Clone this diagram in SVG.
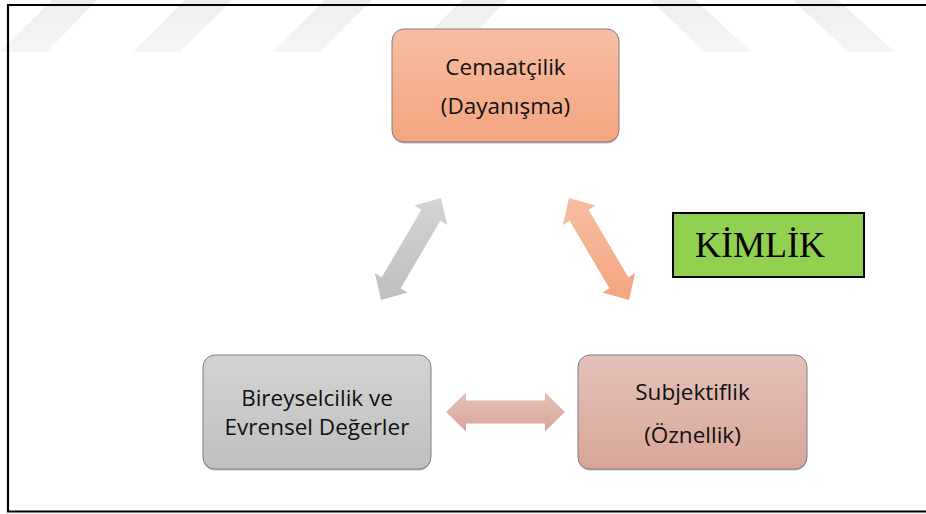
<svg xmlns="http://www.w3.org/2000/svg" width="926" height="514" viewBox="0 0 926 514">
<style>
.lbl{font-family:"Open Sans","Liberation Sans",sans-serif;font-size:22.5px;fill:#111;text-anchor:middle}
.box{stroke:#7f7f7f;stroke-width:1}
.shadow{fill:#8c8c8c;opacity:0.6}
</style>
<defs>
<linearGradient id="gOrange" x1="0" y1="0" x2="0" y2="1"><stop offset="0" stop-color="#f7bea3"/><stop offset="1" stop-color="#f4a47f"/></linearGradient>
<linearGradient id="gGray" x1="0" y1="0" x2="0" y2="1"><stop offset="0" stop-color="#d3d3d3"/><stop offset="1" stop-color="#bfbfbf"/></linearGradient>
<linearGradient id="gRose" x1="0" y1="0" x2="0" y2="1"><stop offset="0" stop-color="#e3c1b9"/><stop offset="1" stop-color="#d9a699"/></linearGradient>
<linearGradient id="gWm" x1="0" y1="0" x2="0" y2="1"><stop offset="0" stop-color="#eeeeee"/><stop offset="1" stop-color="#f5f5f5"/></linearGradient>
</defs>
<rect width="926" height="514" fill="#fff"/>
<g id="watermark" fill="url(#gWm)">
<polygon points="52,0 97,0 47,52 0,52"/>
<polygon points="185,0 232,0 180,52 133,52"/>
<polygon points="325,0 372,0 320,52 273,52"/>
<polygon points="462,0 507,0 457,52 410,52"/>
<polygon points="650,0 695,0 752,52 705,52"/>
<polygon points="793,0 838,0 895,52 848,52"/>
</g>
<path id="frame" d="M926 5 H8 V511.5 H926" fill="none" stroke="#000" stroke-width="2.2"/>
<g id="connectors">
<polygon id="arrow-left" fill="url(#gGray)" points="381,300 374.8,273.1 381.7,277.2 421.4,209.7 414.5,205.6 441,198 447.2,224.9 440.3,220.8 400.6,288.3 407.5,292.4"/>
<polygon id="arrow-right" fill="url(#gOrange)" points="629,300 635.2,273.1 628.3,277.2 588.6,209.7 595.5,205.6 569,198 562.8,224.9 569.7,220.8 609.4,288.3 602.5,292.4"/>
<polygon id="arrow-bottom" fill="url(#gRose)" points="446,412 466,392.5 466,400.5 545,400.5 545,392.5 565,412 545,431.5 545,423.5 466,423.5 466,431.5"/>
</g>
<g id="node-cemaatcilik">
<rect class="shadow" x="392" y="30.5" width="227" height="113" rx="12"/>
<rect class="box" x="392" y="29" width="227" height="113" rx="12" fill="url(#gOrange)"/>
<text class="lbl" x="505.5" y="75">Cemaatçilik</text>
<text class="lbl" x="505.5" y="114">(Dayanışma)</text>
</g>
<g id="node-bireyselcilik">
<rect class="shadow" x="203" y="356.5" width="228" height="114" rx="12"/>
<rect class="box" x="203" y="355" width="228" height="114" rx="12" fill="url(#gGray)"/>
<text class="lbl" x="317" y="406">Bireyselcilik ve</text>
<text class="lbl" x="317" y="435">Evrensel Değerler</text>
</g>
<g id="node-subjektiflik">
<rect class="shadow" x="578" y="356.5" width="229" height="114" rx="12"/>
<rect class="box" x="578" y="355" width="229" height="114" rx="12" fill="url(#gRose)"/>
<text class="lbl" x="692.5" y="400">Subjektiflik</text>
<text class="lbl" x="692.5" y="443">(Öznellik)</text>
</g>
<g id="node-kimlik">
<rect x="673" y="213" width="191" height="64" fill="#92d050" stroke="#000" stroke-width="2"/>
<text x="695" y="257" font-family="'Liberation Serif',serif" font-size="36" fill="#000">KİMLİK</text>
</g>
</svg>
